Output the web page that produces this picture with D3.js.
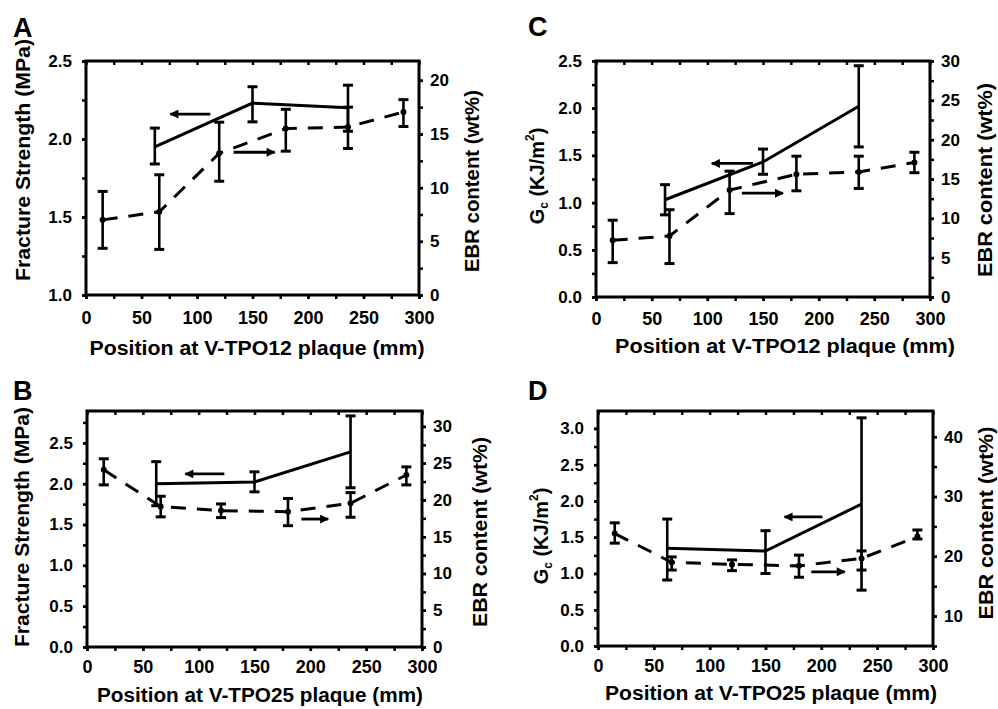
<!DOCTYPE html>
<html>
<head>
<meta charset="utf-8">
<script src="https://cdn.jsdelivr.net/npm/d3@7"></script>
<style>
  body { margin: 0; background: #fff; }
  text { font-family: "Liberation Sans", Arial, sans-serif; font-weight: bold; fill: #000; }
</style>
</head>
<body>
<svg id="chart" width="998" height="709"></svg>
<script>
// positions along the plaque (mm)
const posSolid = [62, 150, 236];
const posDash = [15, 66, 120, 180, 236, 286];

// A: fracture strength + EBR, V-TPO12
const strengthA = [1.95, 2.23, 2.20];
const strengthALo = [1.84, 2.11, 2.05];
const strengthAHi = [2.07, 2.335, 2.345];
const ebrA = [7.0, 7.75, 13.2, 15.5, 15.65, 17.05];
const ebrALo = [4.35, 4.25, 10.6, 13.4, 13.65, 15.7];
const ebrAHi = [9.65, 11.2, 16.1, 17.3, 17.5, 18.2];

// C: Gc + EBR, V-TPO12
const gcC = [1.03, 1.43, 2.02];
const gcCLo = [0.87, 1.30, 1.59];
const gcCHi = [1.19, 1.567, 2.45];
const ebrC = [7.2, 7.76, 13.6, 15.6, 15.9, 17.1];
const ebrCLo = [4.37, 4.25, 10.6, 13.5, 13.8, 15.8];
const ebrCHi = [9.76, 11.1, 16.0, 17.9, 17.9, 18.4];

// B: fracture strength + EBR, V-TPO25
const strengthB = [2.0, 2.02, 2.39];
const strengthBLo = [1.73, 1.90, 1.95];
const strengthBHi = [2.27, 2.145, 2.83];
const ebrB = [24.1, 19.1, 18.55, 18.4, 19.55, 23.4];
const ebrBLo = [22.05, 17.7, 17.6, 16.5, 17.65, 22.05];
const ebrBHi = [25.6, 20.5, 19.46, 20.2, 21.0, 24.5];

// D: Gc + EBR, V-TPO25
const gcD = [1.346, 1.31, 1.957];
const gcDLo = [0.91, 1.0, 0.77];
const gcDHi = [1.75, 1.59, 3.146];
const ebrD = [23.8, 19.0, 18.65, 18.4, 19.65, 23.3];
const ebrDLo = [22.2, 17.7, 17.6, 16.5, 17.7, 22.9];
const ebrDHi = [25.6, 19.9, 19.4, 20.2, 20.9, 24.4];

// arrows: [from x, to x, value, which axis]
const arrowsA = [[112, 76, 2.16, "L"], [133, 170, 13.3, "R"]];
const arrowsC = [[141, 104, 1.415, "L"], [131, 168, 13.2, "R"]];
const arrowsB = [[123, 88, 2.12, "L"], [192, 216, 17.4, "R"]];
const arrowsD = [[201, 167, 1.78, "L"], [191, 221, 17.4, "R"]];

const xTicks = [0, 50, 100, 150, 200, 250, 300];

const panels = [
  { letter: "A", lx: 13, ly: 37, box: [86, 419, 61, 295], left: [1.0, 2.5], leftTicks: [1.0, 1.5, 2.0, 2.5], leftStep: 0.25,
    right: [0, 21.8], rightTicks: [0, 5, 10, 15, 20], rightStep: 2.5, xPad: 12,
    solid: strengthA, solidLo: strengthALo, solidHi: strengthAHi, dash: ebrA, dashLo: ebrALo, dashHi: ebrAHi, arrows: arrowsA,
    xTitle: "Position at V-TPO12 plaque (mm)", xtx: 257, xty: 355, xtl: 335,
    yTitle: "Fracture Strength (MPa)", ytx: 23, yty: 160, ytl: 242, gc: false,
    rTitle: "EBR content (wt%)", rtx: 472, rty: 181, rtl: 182 },
  { letter: "C", lx: 528, ly: 36, box: [596, 930, 61, 297], left: [0, 2.5], leftTicks: [0, 0.5, 1.0, 1.5, 2.0, 2.5], leftStep: 0.25,
    right: [0, 30], rightTicks: [0, 5, 10, 15, 20, 25, 30], rightStep: 2.5, xPad: 11,
    solid: gcC, solidLo: gcCLo, solidHi: gcCHi, dash: ebrC, dashLo: ebrCLo, dashHi: ebrCHi, arrows: arrowsC,
    xTitle: "Position at V-TPO12 plaque (mm)", xtx: 785, xty: 353, xtl: 340,
    yTitle: "G", ytx: 537, yty: 176, ytl: 0, gc: true,
    rTitle: "EBR content (wt%)", rtx: 985, rty: 180, rtl: 194 },
  { letter: "B", lx: 13, ly: 400, box: [87, 422, 411, 647], left: [0, 2.89], leftTicks: [0, 0.5, 1.0, 1.5, 2.0, 2.5], leftStep: 0.25,
    right: [0, 32.1], rightTicks: [0, 5, 10, 15, 20, 25, 30], rightStep: 2.5, xPad: 9,
    solid: strengthB, solidLo: strengthBLo, solidHi: strengthBHi, dash: ebrB, dashLo: ebrBLo, dashHi: ebrBHi, arrows: arrowsB,
    xTitle: "Position at V-TPO25 plaque (mm)", xtx: 260, xty: 702, xtl: 326,
    yTitle: "Fracture Strength (MPa)", ytx: 22, yty: 527, ytl: 240, gc: false,
    rTitle: "EBR content (wt%)", rtx: 480, rty: 532, rtl: 190 },
  { letter: "D", lx: 528, ly: 400, box: [598, 933, 411, 646], left: [0, 3.24], leftTicks: [0, 0.5, 1.0, 1.5, 2.0, 2.5, 3.0], leftStep: 0.25,
    right: [5, 44.3], rightTicks: [10, 20, 30, 40], rightStep: 5, xPad: 9,
    solid: gcD, solidLo: gcDLo, solidHi: gcDHi, dash: ebrD, dashLo: ebrDLo, dashHi: ebrDHi, arrows: arrowsD,
    xTitle: "Position at V-TPO25 plaque (mm)", xtx: 771, xty: 700, xtl: 332,
    yTitle: "G", ytx: 541, yty: 536, ytl: 0, gc: true,
    rTitle: "EBR content (wt%)", rtx: 986, rty: 523, rtl: 193 }
];

const svg = d3.select("#chart");

svg.append("defs").append("marker")
  .attr("id", "head")
  .attr("viewBox", "0 0 10 10")
  .attr("refX", 9).attr("refY", 5)
  .attr("markerWidth", 3.8).attr("markerHeight", 3.2)
  .attr("markerUnits", "strokeWidth")
  .attr("orient", "auto")
  .append("path").attr("d", "M0,0 L10,5 L0,10 Z").attr("fill", "#000");

function styleAxis(g, size) {
  g.select(".domain").remove();
  g.selectAll(".tick line").attr("stroke", "#000").attr("stroke-width", 2.5);
  g.selectAll(".tick text").style("font-size", size + "px").attr("fill", "#000");
}

panels.forEach(p => {
  const [x0, x1, y0, y1] = p.box;
  const x = d3.scaleLinear().domain([0, 300]).range([x0, x1]);
  const yL = d3.scaleLinear().domain(p.left).range([y1, y0]);
  const yR = d3.scaleLinear().domain(p.right).range([y1, y0]);
  const g = svg.append("g");

  // minor ticks
  const xMinor = d3.range(0, 301, 25);
  const lMinor = d3.range(p.left[0], p.left[1] + 1e-9, p.leftStep).map(v => +v.toFixed(3));
  const rMinor = d3.range(Math.ceil(p.right[0] / p.rightStep) * p.rightStep, p.right[1] + 1e-9, p.rightStep);

  g.append("g").attr("transform", `translate(0,${y1})`)
    .call(d3.axisBottom(x).tickValues(xMinor).tickFormat("").tickSizeInner(4).tickSizeOuter(0)).call(styleAxis, 18);
  g.append("g").attr("transform", `translate(0,${y1})`)
    .call(d3.axisBottom(x).tickValues(xTicks).tickFormat(d3.format("d")).tickSize(4).tickPadding(p.xPad)).call(styleAxis, 18);
  g.append("g").attr("transform", `translate(0,${y0})`)
    .call(d3.axisTop(x).tickValues(xMinor).tickFormat("").tickSizeInner(-4).tickSizeOuter(0)).call(styleAxis, 18);

  g.append("g").attr("transform", `translate(${x0},0)`)
    .call(d3.axisLeft(yL).tickValues(lMinor).tickFormat("").tickSizeInner(4).tickSizeOuter(0)).call(styleAxis, 17);
  g.append("g").attr("transform", `translate(${x0},0)`)
    .call(d3.axisLeft(yL).tickValues(p.leftTicks).tickFormat(d3.format(".1f")).tickSize(4).tickPadding(10)).call(styleAxis, 17);

  g.append("g").attr("transform", `translate(${x1},0)`)
    .call(d3.axisRight(yR).tickValues(rMinor).tickFormat("").tickSizeInner(4).tickSizeOuter(0)).call(styleAxis, 17);
  g.append("g").attr("transform", `translate(${x1},0)`)
    .call(d3.axisRight(yR).tickValues(p.rightTicks).tickFormat(d3.format("d")).tickSize(4).tickPadding(7)).call(styleAxis, 17);

  // frame
  g.append("rect").attr("x", x0).attr("y", y0).attr("width", x1 - x0).attr("height", y1 - y0)
    .attr("fill", "none").attr("stroke", "#000").attr("stroke-width", 3);

  // error bars
  const bars = (pos, lo, hi, ys) => {
    pos.forEach((d, i) => {
      const cx = x(d);
      g.append("line").attr("x1", cx).attr("x2", cx).attr("y1", ys(lo[i])).attr("y2", ys(hi[i]))
        .attr("stroke", "#000").attr("stroke-width", 2.6);
      [lo[i], hi[i]].forEach(v => {
        g.append("line").attr("x1", cx - 5).attr("x2", cx + 5).attr("y1", ys(v)).attr("y2", ys(v))
          .attr("stroke", "#000").attr("stroke-width", 3);
      });
    });
  };
  bars(posSolid, p.solidLo, p.solidHi, yL);
  bars(posDash, p.dashLo, p.dashHi, yR);

  // solid line (left axis)
  g.append("path")
    .datum(posSolid.map((d, i) => [d, p.solid[i]]))
    .attr("d", d3.line().x(d => x(d[0])).y(d => yL(d[1])))
    .attr("fill", "none").attr("stroke", "#000").attr("stroke-width", 3);

  // dashed line (right axis)
  g.append("path")
    .datum(posDash.map((d, i) => [d, p.dash[i]]))
    .attr("d", d3.line().x(d => x(d[0])).y(d => yR(d[1])))
    .attr("fill", "none").attr("stroke", "#000").attr("stroke-width", 3)
    .attr("stroke-dasharray", "15,11");
  g.selectAll(null).data(posDash).enter().append("circle")
    .attr("cx", d => x(d)).attr("cy", (d, i) => yR(p.dash[i])).attr("r", 3).attr("fill", "#000");

  // arrows
  p.arrows.forEach(a => {
    const ys = a[3] === "L" ? yL : yR;
    g.append("line").attr("x1", x(a[0])).attr("x2", x(a[1])).attr("y1", ys(a[2])).attr("y2", ys(a[2]))
      .attr("stroke", "#000").attr("stroke-width", 2.8).attr("marker-end", "url(#head)");
  });

  // panel letter
  svg.append("text").attr("x", p.lx).attr("y", p.ly).style("font-size", "27px").text(p.letter);

  // x title
  svg.append("text").attr("x", p.xtx).attr("y", p.xty).attr("text-anchor", "middle")
    .style("font-size", "20px").attr("textLength", p.xtl).attr("lengthAdjust", "spacingAndGlyphs").text(p.xTitle);

  // left title
  const lt = svg.append("text").attr("transform", `translate(${p.ytx},${p.yty}) rotate(-90)`)
    .attr("text-anchor", "middle").attr("dominant-baseline", "central").style("font-size", "20px");
  if (p.gc) {
    lt.append("tspan").text("G");
    lt.append("tspan").attr("baseline-shift", "sub").style("font-size", "12px").text("c");
    lt.append("tspan").text(" (KJ/m");
    lt.append("tspan").attr("baseline-shift", "super").style("font-size", "12px").text("2");
    lt.append("tspan").text(")");
  } else {
    lt.attr("textLength", p.ytl).attr("lengthAdjust", "spacingAndGlyphs").text(p.yTitle);
  }

  // right title
  svg.append("text").attr("transform", `translate(${p.rtx},${p.rty}) rotate(-90)`)
    .attr("text-anchor", "middle").attr("dominant-baseline", "central").style("font-size", "20px")
    .attr("textLength", p.rtl).attr("lengthAdjust", "spacingAndGlyphs").text(p.rTitle);
});
</script>
</body>
</html>
